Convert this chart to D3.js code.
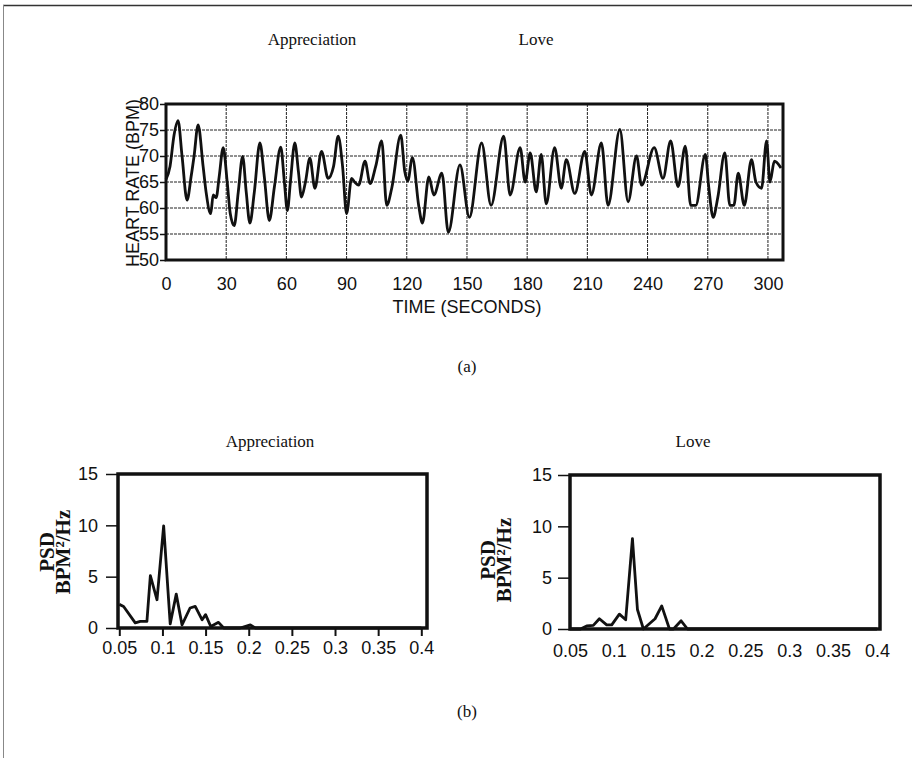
<!DOCTYPE html>
<html>
<head>
<meta charset="UTF-8">
<script src="https://d3js.org/d3.v7.min.js"></script>
<style>
	body { margin: 0; background: #fff; }
	.Sans text, text.Sans { font-family: "Liberation Sans", Arial, sans-serif; fill: #111; }
	.Serif { font-family: "Liberation Serif", "Times New Roman", serif; fill: #111; }
	.Axis path, .Axis line { stroke: #111; }
</style>
</head>
<body>
<svg id="Chart" width="912" height="758"></svg>
<script>
// heart rate trace (seconds, BPM)
var TimeSec = [0, 2, 4, 6, 8, 10.5, 12.5, 14, 16, 18.5, 20, 22.3, 23.5, 25, 26.5, 28.5, 30.5, 32, 34, 36,
	38.2, 40, 41.8, 44, 46.8, 49, 51.5, 54, 57.2, 59, 60.5, 62, 64.2, 66, 67.5, 69.5, 71.7, 74.2, 77.5, 80.8,
	83.5, 85.8, 88, 90, 92.5, 94, 96, 99.2, 101.7, 104.5, 107.5, 110, 112.5, 117, 119, 120.5, 122.8, 126, 127.8, 131,
	133.5, 137.5, 140.7, 146.5, 151.2, 157.3, 162, 168.3, 171.5, 176.5, 179, 181.5, 184.5, 187, 189.5, 193.7, 197, 199.5, 203.7, 208.7,
	212, 217, 220.3, 226.2, 230.3, 234.5, 237, 243.3, 247.7, 251.5, 255.2, 258.8, 261.5, 264, 268.8, 270.5, 272.7, 275,
	278.5, 281, 283, 285.2, 288.2, 291.8, 294, 296.8, 299.3, 301, 303.2, 306.5];
var HeartRate = [65.5, 68, 74, 76.8, 70, 61.5, 66, 70, 76, 68, 63, 58.9, 62.5, 62, 66, 71.6, 65, 59, 56.6, 63,
	69.9, 63, 57.1, 63, 72.5, 66, 57.6, 64, 71.7, 65, 59.5, 65, 72.5, 67, 62.1, 65, 69.6, 63.8, 70.9, 65.7,
	68, 73.8, 68, 58.9, 65.7, 65, 64.4, 69, 64.7, 68, 72.9, 60.5, 63.8, 74, 67, 65.2, 69.7, 60.3, 57.1, 66,
	62.5, 66.7, 55.3, 68.3, 58.2, 72.5, 60.5, 73.8, 62.5, 71.6, 65, 70.6, 63.1, 70.3, 60.8, 71.6, 63.8, 69.3, 62.8, 70.9,
	62.5, 72.5, 60.5, 75.1, 61.2, 70, 64.4, 71.6, 65.7, 72.9, 64.1, 71.9, 60.5, 60.5, 70.3, 64, 58.2, 62,
	70.6, 60.5, 60.5, 66.7, 60.5, 69.3, 65, 63.8, 72.9, 65, 69, 67.7];
var HrTicksX = [0, 30, 60, 90, 120, 150, 180, 210, 240, 270, 300];
var HrTicksY = [50, 55, 60, 65, 70, 75, 80];

// power spectral density (Hz, BPM^2/Hz)
var ApprFreq = [0.05, 0.055, 0.0685, 0.0743, 0.082, 0.086, 0.0937, 0.1014, 0.109, 0.116, 0.1227, 0.132, 0.138, 0.146,
	0.15, 0.156, 0.165, 0.171, 0.19, 0.2019, 0.2077, 0.4];
var ApprPsd = [2.3, 2.1, 0.5, 0.65, 0.65, 5.1, 2.75, 9.95, 0.4, 3.3, 0.3, 1.95, 2.1, 0.8,
	1.3, 0.15, 0.55, 0, 0, 0.3, 0, 0];
var LoveFreq = [0.05, 0.062, 0.069, 0.0766, 0.0835, 0.0918, 0.0976, 0.1063, 0.1135, 0.1212, 0.1269, 0.1337, 0.147,
	0.1546, 0.1634, 0.168, 0.1767, 0.184, 0.4];
var LovePsd = [0, 0, 0.3, 0.35, 1.0, 0.4, 0.4, 1.45, 0.9, 8.8, 1.9, 0, 1.0,
	2.25, 0, 0, 0.8, 0, 0];
var PsdTicksX = [0.05, 0.1, 0.15, 0.2, 0.25, 0.3, 0.35, 0.4];
var PsdTicksY = [0, 5, 10, 15];

var Svg = d3.select("#Chart");

// page frame
Svg.append("line").attr("x1", 3).attr("x2", 912).attr("y1", 5.5).attr("y2", 5.5)
	.attr("stroke", "#333").attr("stroke-width", 1.6);
Svg.append("line").attr("x1", 3.5).attr("x2", 3.5).attr("y1", 5).attr("y2", 758)
	.attr("stroke", "#888").attr("stroke-width", 1);

// ---------- (a) heart rate ----------
var HrX = d3.scaleLinear().domain([0, 307.5]).range([166, 783]);
var HrY = d3.scaleLinear().domain([50, 80]).range([260, 104]);

var Grid = Svg.append("g").attr("stroke", "#222").attr("stroke-width", 1).attr("stroke-dasharray", "3,1");
Grid.selectAll(".v").data(HrTicksX.slice(1)).enter().append("line")
	.attr("x1", function(d){ return HrX(d); }).attr("x2", function(d){ return HrX(d); })
	.attr("y1", HrY(80)).attr("y2", HrY(50));
Grid.selectAll(".h").data(HrTicksY.slice(1, -1)).enter().append("line")
	.attr("x1", HrX(0)).attr("x2", 783)
	.attr("y1", function(d){ return HrY(d); }).attr("y2", function(d){ return HrY(d); });

Svg.append("g").attr("class", "Sans Axis").attr("transform", "translate(0,260)")
	.call(d3.axisBottom(HrX).tickValues(HrTicksX).tickSize(0).tickPadding(17))
	.call(function(g){ g.select(".domain").remove(); })
	.selectAll("text").style("font-size", "18px");
Svg.append("g").attr("class", "Sans Axis").attr("transform", "translate(166,0)")
	.call(d3.axisLeft(HrY).tickValues(HrTicksY).tickSize(6).tickPadding(1))
	.call(function(g){ g.select(".domain").remove(); g.selectAll("line").attr("stroke-width", 1.5); })
	.selectAll("text").style("font-size", "18px");

var HrLine = d3.line()
	.x(function(d, i){ return HrX(TimeSec[i]); })
	.y(function(d){ return HrY(d); })
	.curve(d3.curveMonotoneX);
Svg.append("path").datum(HeartRate).attr("d", HrLine)
	.attr("fill", "none").attr("stroke", "#111").attr("stroke-width", 2.8).attr("stroke-linejoin", "round");

Svg.append("rect").attr("x", 166).attr("y", 104).attr("width", 783 - 166).attr("height", 156)
	.attr("fill", "none").attr("stroke", "#111").attr("stroke-width", 3);

Svg.append("text").attr("class", "Sans").attr("x", 467).attr("y", 313).attr("text-anchor", "middle")
	.style("font-size", "18px").text("TIME (SECONDS)");
Svg.append("text").attr("class", "Sans").attr("transform", "translate(139,183) rotate(-90)")
	.attr("text-anchor", "middle").style("font-size", "18px").text("HEART RATE (BPM)");

Svg.append("text").attr("class", "Serif").attr("x", 312).attr("y", 45).attr("text-anchor", "middle")
	.style("font-size", "17px").text("Appreciation");
Svg.append("text").attr("class", "Serif").attr("x", 536).attr("y", 45).attr("text-anchor", "middle")
	.style("font-size", "17px").text("Love");
Svg.append("text").attr("class", "Serif").attr("x", 467).attr("y", 372).attr("text-anchor", "middle")
	.style("font-size", "17px").text("(a)");

// ---------- (b) spectra ----------
function DrawPsd(Opt)
{
	var X = d3.scaleLinear().domain(Opt.XDomain).range([Opt.Left, Opt.Right]);
	var Y = d3.scaleLinear().domain([0, 15]).range([Opt.Bottom, Opt.Top]);

	Svg.append("g").attr("class", "Sans Axis").attr("transform", "translate(0," + Opt.Bottom + ")")
		.call(d3.axisBottom(X).tickValues(PsdTicksX).tickFormat(d3.format("")).tickSize(Opt.XTick).tickPadding(Opt.XPad))
		.call(function(g){ g.select(".domain").remove(); g.selectAll("line").attr("stroke-width", 2); })
		.selectAll("text").style("font-size", "18px");
	Svg.append("g").attr("class", "Sans Axis").attr("transform", "translate(" + Opt.Left + ",0)")
		.call(d3.axisLeft(Y).tickValues(PsdTicksY).tickSize(12).tickPadding(Opt.YPad))
		.call(function(g){ g.select(".domain").remove(); g.selectAll("line").attr("stroke-width", 1.5); })
		.selectAll("text").style("font-size", "18px");

	var Line = d3.line()
		.x(function(d, i){ return X(Opt.Freq[i]); })
		.y(function(d){ return Y(d); });
	Svg.append("path").datum(Opt.Psd).attr("d", Line)
		.attr("fill", "none").attr("stroke", "#111").attr("stroke-width", 2.8).attr("stroke-linejoin", "round");

	Svg.append("rect").attr("x", Opt.Left).attr("y", Opt.Top)
		.attr("width", Opt.Right - Opt.Left).attr("height", Opt.Bottom - Opt.Top)
		.attr("fill", "none").attr("stroke", "#111").attr("stroke-width", 3.5);

	Svg.append("text").attr("class", "Serif").attr("x", Opt.TitleX).attr("y", 447).attr("text-anchor", "middle")
		.style("font-size", "17px").text(Opt.Title);
	Svg.append("text").attr("class", "Serif")
		.attr("transform", "translate(" + Opt.LabelX + "," + Opt.LabelY + ") rotate(-90)")
		.attr("text-anchor", "middle").style("font-size", "21px").style("font-weight", "bold").text("PSD");
	Svg.append("text").attr("class", "Serif")
		.attr("transform", "translate(" + (Opt.LabelX + 16) + "," + Opt.LabelY + ") rotate(-90)")
		.attr("text-anchor", "middle").style("font-size", "21px").style("font-weight", "bold").text("BPM²/Hz");
}

DrawPsd({Left: 118, Right: 427, Top: 474, Bottom: 628, XDomain: [0.0485, 0.4066],
	Freq: ApprFreq, Psd: ApprPsd, XTick: 8, XPad: 5, YPad: 8,
	Title: "Appreciation", TitleX: 270, LabelX: 54, LabelY: 552});
DrawPsd({Left: 570, Right: 880, Top: 475, Bottom: 629, XDomain: [0.05, 0.4035],
	Freq: LoveFreq, Psd: LovePsd, XTick: 0, XPad: 15, YPad: 6,
	Title: "Love", TitleX: 693, LabelX: 495, LabelY: 560});

Svg.append("text").attr("class", "Serif").attr("x", 467).attr("y", 717).attr("text-anchor", "middle")
	.style("font-size", "17px").text("(b)");
</script>
</body>
</html>
